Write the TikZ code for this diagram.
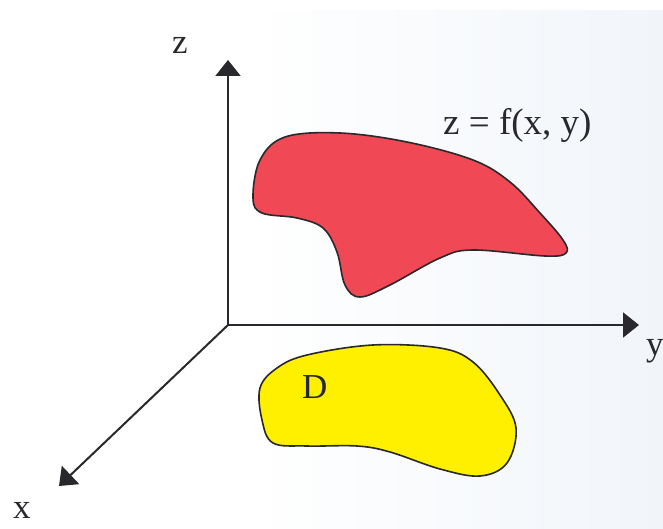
\documentclass[tikz,border=0pt]{standalone}
\usepackage{fontspec}
\setmainfont{Liberation Serif}
\usetikzlibrary{arrows.meta}
\definecolor{surfred}{RGB}{240,72,84}
\definecolor{domyellow}{RGB}{255,240,0}
\definecolor{inkgray}{RGB}{40,40,45}
\definecolor{bgblue}{RGB}{241,245,250}
\tikzset{
  axis/.style={draw=inkgray, line width=2pt, -{Triangle[length=16pt,width=25pt]}},
  region/.style={draw=inkgray, line width=1.6pt},
  lbl/.style={inner sep=0pt, anchor=base west, text=inkgray, font=\fontsize{35}{40}\selectfont},
}
\begin{document}
\begin{tikzpicture}[x=1pt, y=-1pt]
\useasboundingbox (0,0) rectangle (663,529);
\shade[left color=white, right color=bgblue, shading angle=90] (250,10) rectangle (663,529);
\fill[white] (0,0) rectangle (663,10);
\fill[white] (0,10) rectangle (250,529);

\coordinate (O) at (228,325);
\coordinate (Z) at (228,60);
\coordinate (Y) at (639,325);
\coordinate (X) at (59,486);

\draw[axis] (O) -- (Z);
\draw[axis] (O) -- (Y);
\draw[axis] (O) -- (X);

\draw[region, fill=surfred] plot[smooth cycle, tension=0.6] coordinates {
  (253,198) (260,160) (285,137) (340,133) (407,142) (473,160) (510,182)
  (540,213) (563,240) (566,253) (545,256) (473,250) (440,258) (390,285)
  (360,297) (345,285) (337,252) (323,228) (297,218) (262,213)};

\draw[region, fill=domyellow] plot[smooth cycle, tension=0.6] coordinates {
  (260,388) (277,368) (307,355) (373,345) (440,348) (473,362) (500,395)
  (516,428) (507,463) (480,476) (440,469) (390,452) (357,446) (307,446)
  (273,443) (262,420)};

\node[lbl] (zl) at (172,54) {z};
\node[lbl] (yl) at (646,355) {y};
\node[lbl] (xl) at (13,518) {x};
\node[lbl] (dl) at (302,398) {D};
\node[lbl, font=\fontsize{37}{42}\selectfont] (fl) at (443,135) {z = f(x, y)};
\end{tikzpicture}
\end{document}
